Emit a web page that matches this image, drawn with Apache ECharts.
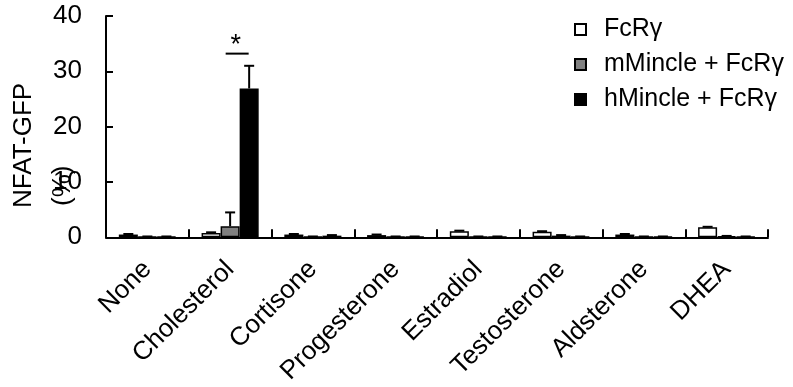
<!DOCTYPE html>
<html>
<head>
<meta charset="utf-8">
<script src="https://cdn.jsdelivr.net/npm/echarts@6/dist/echarts.min.js"></script>
<style>
html,body{margin:0;padding:0;background:#fff;}
#c{width:793px;height:387px;}
</style>
</head>
<body>
<div id="c"></div>
<script>
var categories = ['None','Cholesterol','Cortisone','Progesterone','Estradiol','Testosterone','Aldsterone','DHEA'];
var seriesNames = ['FcR\u03b3','mMincle + FcR\u03b3','hMincle + FcR\u03b3'];
var fcrValues = [0.5, 0.8, 0.5, 0.4, 1.1, 1.0, 0.5, 1.8];
var mMincleValues = [0.1, 2.0, 0.1, 0.1, 0.1, 0.3, 0.1, 0.2];
var hMincleValues = [0.1, 26.9, 0.3, 0.1, 0.1, 0.1, 0.1, 0.1];
var fcrErrors = [0.1, 0.1, 0.1, 0.1, 0.1, 0.1, 0.1, 0.1];
var mMincleErrors = [0.05, 2.5, 0.05, 0.05, 0.05, 0.1, 0.05, 0.05];
var hMincleErrors = [0.05, 4.1, 0.1, 0.05, 0.05, 0.05, 0.05, 0.05];
var yTicks = [0, 10, 20, 30, 40];
var significance = {category: 'Cholesterol', value: 33.2, label: '*'};

var FONT = 'Liberation Sans, Arial, sans-serif';
var chart = echarts.init(document.getElementById('c'), null, {renderer: 'canvas'});

var barRatio = 0.23;   // bar width relative to band
var catGap = '31%';

function errorSeries(values, errors, idx) {
  return {
    type: 'custom',
    name: seriesNames[idx] + ' err',
    z: 5,
    data: values.map(function (v, i) { return [i, v, errors[i]]; }),
    renderItem: function (params, api) {
      var ci = api.value(0);
      var v = api.value(1);
      var e = api.value(2);
      var base = api.coord([ci, v]);
      var top = api.coord([ci, v + e]);
      var band = api.size([1, 0])[0];
      var bw = band * barRatio;
      var x = base[0] + (idx - 1) * bw;
      var style = {stroke: '#000', lineWidth: 2};
      return {
        type: 'group',
        children: [
          {type: 'line', shape: {x1: x, y1: base[1], x2: x, y2: top[1]}, style: style},
          {type: 'line', shape: {x1: x - 5, y1: top[1], x2: x + 5, y2: top[1]}, style: style}
        ]
      };
    }
  };
}

var option = {
  animation: false,
  backgroundColor: '#fff',
  textStyle: {fontFamily: FONT},
  grid: {left: 106, right: 25, top: 16, bottom: 149, containLabel: false},
  legend: {
    orient: 'vertical',
    left: 574,
    top: 17,
    padding: 0,
    itemWidth: 11,
    itemHeight: 11,
    itemGap: 10,
    icon: 'rect',
    data: seriesNames,
    textStyle: {fontFamily: FONT, fontSize: 25, color: '#000', padding: [0, 0, 0, 13]}
  },
  xAxis: {
    type: 'category',
    data: categories,
    boundaryGap: true,
    axisLine: {lineStyle: {color: '#000', width: 2}},
    axisTick: {show: true, inside: true, length: 8, alignWithLabel: false, lineStyle: {color: '#000', width: 2}},
    axisLabel: {rotate: 45, interval: 0, margin: 28, color: '#000', fontFamily: FONT, fontSize: 26}
  },
  yAxis: {
    type: 'value',
    min: yTicks[0],
    max: yTicks[yTicks.length - 1],
    interval: yTicks[1] - yTicks[0],
    splitLine: {show: false},
    axisLine: {show: true, lineStyle: {color: '#000', width: 2}},
    axisTick: {show: true, inside: true, length: 7, lineStyle: {color: '#000', width: 2}},
    axisLabel: {margin: 24, color: '#000', fontFamily: FONT, fontSize: 26}
  },
  series: [
    {
      name: seriesNames[0], type: 'bar', data: fcrValues,
      barGap: '0%', barCategoryGap: catGap,
      itemStyle: {color: '#fff', borderColor: '#000', borderWidth: 1.5}
    },
    {
      name: seriesNames[1], type: 'bar', data: mMincleValues,
      barGap: '0%', barCategoryGap: catGap,
      itemStyle: {color: '#808080', borderColor: '#000', borderWidth: 1.5}
    },
    {
      name: seriesNames[2], type: 'bar', data: hMincleValues,
      barGap: '0%', barCategoryGap: catGap,
      itemStyle: {color: '#000', borderColor: '#000', borderWidth: 1.5}
    },
    errorSeries(fcrValues, fcrErrors, 0),
    errorSeries(mMincleValues, mMincleErrors, 1),
    errorSeries(hMincleValues, hMincleErrors, 2),
    {
      type: 'custom',
      name: 'sig',
      z: 6,
      data: [[categories.indexOf(significance.category), significance.value]],
      renderItem: function (params, api) {
        var p = api.coord([api.value(0), api.value(1)]);
        var band = api.size([1, 0])[0];
        var cx = p[0] + band * 0.085;
        return {
          type: 'group',
          children: [
            {type: 'line', shape: {x1: cx - 11.5, y1: p[1], x2: cx + 11.5, y2: p[1]}, style: {stroke: '#000', lineWidth: 2}},
            {type: 'text', x: cx - 1.5, y: p[1] + 5, style: {text: significance.label, fontFamily: FONT, fontSize: 27, fill: '#000', textAlign: 'center', textVerticalAlign: 'bottom'}}
          ]
        };
      }
    }
  ],
  graphic: [
    {type: 'text', x: 24, y: 208, rotation: Math.PI / 2,
     style: {text: 'NFAT-GFP', fontFamily: FONT, fontSize: 26, fill: '#000', textAlign: 'left', textVerticalAlign: 'middle'}},
    {type: 'text', x: 63, y: 206, rotation: Math.PI / 2,
     style: {text: '(%)', fontFamily: FONT, fontSize: 26, fill: '#000', textAlign: 'left', textVerticalAlign: 'middle'}}
  ]
};
chart.setOption(option);
</script>
</body>
</html>
